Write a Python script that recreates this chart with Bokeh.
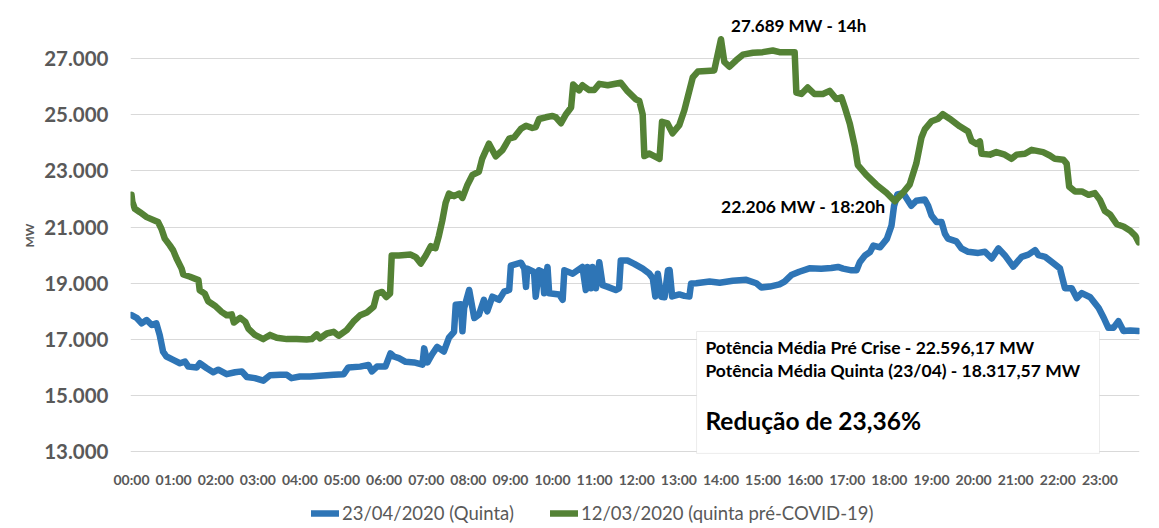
from bokeh.plotting import figure
from bokeh.layouts import column
from bokeh.models import (FixedTicker, Legend, LegendItem, Label, BoxAnnotation,
                          ColumnDataSource)
from bokeh.embed import file_html
from bokeh.resources import INLINE

# ---------------- data ----------------
pre_hours = [0.00, 0.02, 0.08, 0.20, 0.36, 0.63, 0.71, 0.79, 0.91, 0.99, 1.07, 1.19, 1.23, 1.39,
             1.59, 1.62, 1.74, 1.82, 1.98, 2.14, 2.26, 2.38, 2.43, 2.58, 2.70, 2.78, 2.93, 3.13,
             3.29, 3.45, 3.69, 3.92, 4.16, 4.28, 4.40, 4.48, 4.64, 4.80, 4.92, 5.11, 5.27, 5.43,
             5.59, 5.75, 5.83, 5.95, 6.05, 6.14, 6.18, 6.35, 6.63, 6.75, 6.87, 6.99, 7.11, 7.22,
             7.30, 7.38, 7.46, 7.54, 7.66, 7.78, 7.86, 7.98, 8.10, 8.25, 8.33, 8.49, 8.65, 8.81,
             8.97, 9.09, 9.25, 9.37, 9.52, 9.60, 9.68, 9.84, 10.00, 10.08, 10.20, 10.32, 10.44,
             10.49, 10.63, 10.71, 10.87, 10.99, 11.11, 11.31, 11.62, 11.78, 11.98, 12.06, 12.14,
             12.18, 12.30, 12.54, 12.60, 12.73, 12.85, 13.01, 13.13, 13.21, 13.33, 13.45, 13.65,
             13.84, 13.90, 14.00, 14.08, 14.20, 14.36, 14.52, 14.76, 14.99, 15.23, 15.39, 15.75,
             15.79, 15.91, 16.06, 16.22, 16.42, 16.58, 16.74, 16.86, 16.94, 17.06, 17.18, 17.25,
             17.45, 17.69, 17.93, 18.13, 18.32, 18.48, 18.64, 18.76, 18.84, 19.00, 19.16, 19.27,
             19.43, 19.67, 19.87, 19.95, 20.07, 20.15, 20.19, 20.39, 20.54, 20.74, 20.90, 21.02,
             21.22, 21.38, 21.65, 21.81, 21.93, 22.13, 22.21, 22.27, 22.41, 22.57, 22.73, 22.88,
             23.00, 23.12, 23.24, 23.40, 23.56, 23.72, 23.84, 23.92]
pre_values = [22150, 21900, 21650, 21530, 21355, 21180, 20940, 20590, 20350, 20170, 19880, 19520,
              19310, 19230, 19110, 18750, 18630, 18360, 18200, 17980, 17860, 17890, 17600, 17770,
              17630, 17370, 17160, 17010, 17160, 17060, 17010, 17010, 17000, 17010, 17180, 17040,
              17210, 17270, 17130, 17330, 17630, 17860, 17960, 18160, 18630, 18690, 18510, 18630,
              19990, 19990, 20020, 19930, 19700, 19990, 20320, 20250, 20690, 21220, 21860, 22190,
              22100, 22190, 22040, 22510, 22860, 22970, 23440, 23970, 23520, 23740, 24150, 24200,
              24500, 24610, 24530, 24560, 24850, 24910, 24960, 24910, 24700, 25020, 25260, 26080,
              25870, 26050, 25880, 25880, 26100, 26050, 26140, 25840, 25550, 25490, 25020, 23530,
              23620, 23430, 24750, 24690, 24340, 24630, 25160, 25630, 26330, 26540, 26560, 26580,
              27000, 27689, 26880, 26710, 26940, 27140, 27210, 27230, 27290, 27230, 27230, 25790,
              25740, 25970, 25740, 25740, 25850, 25560, 25620, 25270, 24680, 23860, 23210, 22860,
              22510, 22220, 21920, 22220, 22510, 23270, 24180, 24480, 24770, 24860, 25020, 24860,
              24590, 24400, 24070, 23960, 24050, 23610, 23580, 23670, 23580, 23430, 23580, 23610,
              23750, 23670, 23550, 23430, 23400, 23260, 22440, 22270, 22270, 22150, 22210, 21970,
              21570, 21450, 21100, 21020, 20870, 20690, 20460]

cur_hours = [0.00, 0.12, 0.24, 0.36, 0.48, 0.59, 0.67, 0.75, 0.83, 0.99, 1.15, 1.27, 1.35, 1.55,
             1.62, 1.78, 1.94, 2.06, 2.26, 2.46, 2.62, 2.74, 2.93, 3.13, 3.29, 3.53, 3.69, 3.80,
             4.00, 4.24, 4.56, 4.80, 5.04, 5.15, 5.43, 5.63, 5.71, 5.83, 6.03, 6.15, 6.23, 6.35,
             6.51, 6.71, 6.91, 6.95, 7.03, 7.14, 7.26, 7.42, 7.54, 7.66, 7.70, 7.82, 7.86, 7.90,
             8.02, 8.14, 8.25, 8.37, 8.45, 8.57, 8.73, 8.85, 8.97, 9.01, 9.25, 9.33, 9.37, 9.40,
             9.56, 9.60, 9.68, 9.76, 9.80, 9.88, 9.92, 10.16, 10.24, 10.28, 10.48, 10.71, 10.79,
             10.83, 10.91, 10.95, 11.03, 11.11, 11.19, 11.31, 11.50, 11.58, 11.62, 11.78, 11.94,
             12.14, 12.30, 12.38, 12.44, 12.50, 12.58, 12.66, 12.74, 12.78, 12.84, 13.01, 13.13,
             13.25, 13.29, 13.41, 13.73, 13.97, 14.28, 14.60, 14.84, 14.96, 15.16, 15.39, 15.51,
             15.67, 15.86, 16.10, 16.38, 16.62, 16.78, 16.90, 17.10, 17.22, 17.30, 17.42, 17.54,
             17.62, 17.78, 17.94, 18.05, 18.11, 18.19, 18.33, 18.52, 18.64, 18.84, 18.92, 19.00,
             19.12, 19.24, 19.32, 19.39, 19.59, 19.71, 19.87, 20.11, 20.27, 20.43, 20.59, 20.74,
             20.94, 21.14, 21.30, 21.46, 21.54, 21.70, 21.90, 22.05, 22.17, 22.33, 22.45, 22.57,
             22.77, 22.97, 23.09, 23.20, 23.32, 23.44, 23.56, 23.72, 23.92]
cur_values = [17865, 17770, 17570, 17690, 17510, 17570, 17150, 16560, 16390, 16270, 16150, 16210,
              16030, 16000, 16150, 15980, 15830, 15920, 15760, 15830, 15860, 15660, 15620, 15530,
              15720, 15740, 15740, 15620, 15680, 15680, 15710, 15740, 15760, 16000, 16030, 16090,
              15860, 16030, 16030, 16500, 16390, 16330, 16200, 16180, 16100, 16680, 16180, 16470,
              16730, 16570, 17060, 17270, 18230, 18250, 17290, 18110, 18760, 17760, 17880, 18410,
              18000, 18520, 18410, 18700, 18760, 19630, 19730, 19520, 18870, 19520, 19400, 18520,
              19460, 19400, 18640, 19580, 18640, 18600, 18410, 19460, 19340, 19580, 18760, 19580,
              18820, 19580, 18820, 19750, 18930, 18870, 18760, 18820, 19810, 19810, 19690, 19520,
              19340, 19180, 18530, 19340, 18520, 18500, 19460, 19470, 18530, 18600, 18550, 18530,
              18990, 19000, 19060, 19020, 19090, 19120, 19000, 18850, 18880, 18960, 19060, 19290,
              19410, 19530, 19520, 19540, 19580, 19520, 19460, 19460, 19760, 19990, 20110, 20340,
              20280, 20580, 21050, 21750, 22160, 22206, 21760, 21940, 21980, 21760, 21410, 21180,
              21180, 20760, 20590, 20490, 20240, 20120, 20080, 20120, 19880, 20240, 20000, 19590,
              19940, 20020, 20180, 20000, 19940, 19710, 19530, 18820, 18820, 18470, 18650, 18500,
              18120, 17770, 17410, 17410, 17650, 17300, 17320, 17300]

series_names = ["23/04/2020 (Quinta)", "12/03/2020 (quinta pré-COVID-19)"]
x_ticks = list(range(24))
x_tick_labels = ["00:00", "01:00", "02:00", "03:00", "04:00", "05:00", "06:00", "07:00",
                 "08:00", "09:00", "10:00", "11:00", "12:00", "13:00", "14:00", "15:00",
                 "16:00", "17:00", "18:00", "19:00", "20:00", "21:00", "22:00", "23:00"]
y_ticks = [13000, 15000, 17000, 19000, 21000, 23000, 25000, 27000]
y_tick_labels = ["13.000", "15.000", "17.000", "19.000", "21.000", "23.000", "25.000", "27.000"]

peak_pre_text = "27.689 MW - 14h"
peak_cur_text = "22.206 MW  - 18:20h"
box_lines = ["Potência Média Pré Crise - 22.596,17 MW",
             "Potência Média Quinta (23/04) - 18.317,57 MW"]
box_result = "Redução de 23,36%"

BLUE = "#2E75B6"
GREEN = "#548235"
GREY = "#595959"

# ---------------- main figure ----------------
p = figure(width=1151, height=490, x_range=(-0.024, 23.94), y_range=(12900, 28500),
           output_backend="svg", toolbar_location=None,
           min_border_left=130, min_border_right=12, min_border_top=16, min_border_bottom=36)
p.outline_line_color = None
p.background_fill_color = "white"
p.border_fill_color = "white"

src_cur = ColumnDataSource(dict(x=cur_hours, y=cur_values))
src_pre = ColumnDataSource(dict(x=pre_hours, y=pre_values))
p.line("x", "y", source=src_cur, line_color=BLUE, line_width=6.5,
       line_join="round", line_cap="round")
p.line("x", "y", source=src_pre, line_color=GREEN, line_width=6.5,
       line_join="round", line_cap="round")

# axes
p.xaxis.ticker = FixedTicker(ticks=x_ticks)
p.xaxis.major_label_overrides = {t: l for t, l in zip(x_ticks, x_tick_labels)}
p.yaxis.ticker = FixedTicker(ticks=y_ticks)
p.yaxis.major_label_overrides = {t: l for t, l in zip(y_ticks, y_tick_labels)}
for ax in (p.xaxis[0], p.yaxis[0]):
    ax.axis_line_color = None
    ax.major_tick_line_color = None
    ax.minor_tick_line_color = None
    ax.major_tick_out = 0
    ax.major_tick_in = 0
    ax.minor_tick_out = 0
    ax.major_label_text_color = GREY
    ax.major_label_text_font = "Lato"
    ax.major_label_text_font_style = "bold"
p.xaxis.major_label_text_font_size = "14px"
p.xaxis.major_label_standoff = 16
p.yaxis.major_label_text_font_size = "20.5px"
p.yaxis.major_label_standoff = 22
p.yaxis.axis_label = "MW"
p.yaxis.axis_label_text_font = "Lato"
p.yaxis.axis_label_text_font_size = "12px"
p.yaxis.axis_label_text_font_style = "bold"
p.yaxis.axis_label_text_color = GREY
p.yaxis.axis_label_standoff = 4

p.xgrid.grid_line_color = None
p.ygrid.grid_line_color = "#d9d9d9"
p.ygrid.grid_line_width = 1

# peak annotations
i_pre = pre_values.index(max(pre_values))
i_cur = cur_values.index(max(cur_values))
p.add_layout(Label(x=pre_hours[i_pre] + 0.24, y=pre_values[i_pre] + 480, text=peak_pre_text,
                   text_font="Lato", text_font_style="bold", text_font_size="17px",
                   text_color="black", text_baseline="middle"))
p.add_layout(Label(x=cur_hours[i_cur] - 0.33, y=cur_values[i_cur] - 480, text=peak_cur_text,
                   text_font="Lato", text_font_style="bold", text_font_size="17.5px",
                   text_color="black", text_baseline="middle", text_align="right"))

# info box
p.add_layout(BoxAnnotation(left=13.42, right=22.99, bottom=12940, top=17281,
                           fill_color="white", fill_alpha=1.0,
                           line_color="#bfbfbf", line_width=1))
p.add_layout(Label(x=13.63, y=16712, text=box_lines[0], text_font="Lato",
                   text_font_style="bold", text_font_size="17.5px", text_color="black",
                   text_baseline="middle"))
p.add_layout(Label(x=13.63, y=15893, text=box_lines[1], text_font="Lato",
                   text_font_style="bold", text_font_size="17.5px", text_color="black",
                   text_baseline="middle"))
p.add_layout(Label(x=13.63, y=14114, text=box_result, text_font="Lato",
                   text_font_style="bold", text_font_size="24.5px", text_color="black",
                   text_baseline="middle"))

# ---------------- legend strip ----------------
pl = figure(width=1151, height=36, x_range=(0, 1), y_range=(0, 1),
            output_backend="svg", toolbar_location=None,
            x_axis_location=None, y_axis_location=None,
            min_border_left=0, min_border_right=0, min_border_top=0, min_border_bottom=0)
pl.outline_line_color = None
pl.xgrid.visible = False
pl.ygrid.visible = False
lr_cur = pl.line(x=[-5, -4], y=[-5, -5], line_color=BLUE, line_width=6.5, line_cap="round")
lr_pre = pl.line(x=[-5, -4], y=[-5, -5], line_color=GREEN, line_width=6.5, line_cap="round")
legend = Legend(items=[LegendItem(label=series_names[0], renderers=[lr_cur]),
                       LegendItem(label=series_names[1], renderers=[lr_pre])],
                orientation="horizontal", location=(181, 2))
legend.label_text_font = "Lato"
legend.label_text_font_size = "18.5px"
legend.label_text_color = GREY
legend.glyph_width = 28
legend.glyph_height = 20
legend.label_standoff = 3
legend.spacing = 36
legend.padding = 0
legend.margin = 0
legend.border_line_color = None
legend.background_fill_alpha = 0
pl.add_layout(legend)

layout = column(p, pl, spacing=0)
open("out.html", "w").write(file_html(layout, INLINE))
